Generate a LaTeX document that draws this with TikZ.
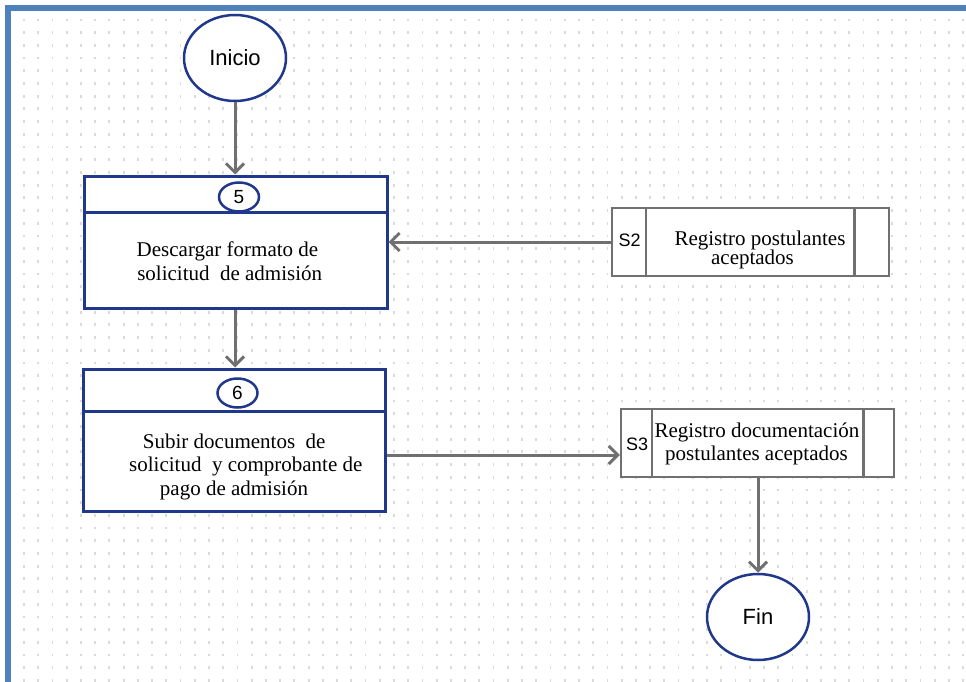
\documentclass[tikz,border=0pt]{standalone}
\usepackage{fontspec}
\setmainfont{Liberation Serif}
\newfontfamily\arialf{Liberation Sans}
\usetikzlibrary{arrows.meta,shapes.geometric}
\definecolor{dblue}{RGB}{32,56,140}
\definecolor{cgray}{RGB}{112,112,112}
\definecolor{frameblue}{RGB}{79,129,189}
\definecolor{dotgray}{RGB}{218,218,218}
\begin{document}
\begin{tikzpicture}[x=1pt,y=-1pt,
 term/.style={ellipse, draw=dblue, line width=2.5pt, fill=white, minimum width=102pt, minimum height=86pt, inner sep=0pt, font=\arialf\fontsize{22}{26}\selectfont},
 procbox/.style={rectangle, draw=dblue, line width=3pt, fill=white, inner sep=0pt},
 numcirc/.style={ellipse, draw=dblue, line width=2.5pt, fill=white, minimum width=40pt, minimum height=29pt, inner sep=0pt, font=\arialf\fontsize{19}{22}\selectfont},
 storebox/.style={rectangle, draw=cgray, line width=2.5pt, fill=white, inner sep=0pt},
 divider/.style={draw=cgray, line width=2.5pt},
 hdrline/.style={draw=dblue, line width=3pt},
 flow/.style={draw=cgray, line width=3pt, -{Straight Barb[length=9pt,width=18pt]}},
 txt/.style={font=\fontsize{21}{24}\selectfont, anchor=base, inner sep=0pt},
 slab/.style={font=\arialf\fontsize{18}{21}\selectfont, anchor=base, inner sep=0pt}
]
\useasboundingbox (0,0) rectangle (966,682);
\fill[white] (0,0) rectangle (966,682);
% dot grid
\foreach \i in {0,...,66} {
  \foreach \j in {0,...,52} {
    \fill[dotgray] ({24+14.23*\i-0.9},{20+12.7*\j-1.4}) rectangle ++(1.8,2.8);
  }
}
% frame
\draw[frameblue, line width=6pt, line join=miter] (8,682) -- (8,8) -- (966,8);

% terminals
\node[term] (ini) at (235,58) {Inicio};
\node[term] (fin) at (758,617) {Fin};

% process box 5
\node[procbox, minimum width=303pt, minimum height=132pt] (b5) at (235.5,242) {};
\draw[hdrline] ([yshift=-38pt]b5.north west) -- ([yshift=-38pt]b5.north east);
\node[numcirc] (n5) at (239,197) {5};
\node[txt] (t5a) at (227.5,256) {Descargar formato de};
\node[txt] (t5b) at (229.7,280) {solicitud\ \ de admisión};

% process box 6
\node[procbox, minimum width=302pt, minimum height=142pt] (b6) at (234,440) {};
\draw[hdrline] ([yshift=-44pt]b6.north west) -- ([yshift=-44pt]b6.north east);
\node[numcirc] (n6) at (237.5,393) {6};
\node[txt] (t6a) at (234.2,448) {Subir documentos\ \ de};
\node[txt] (t6b) at (245.8,471) {solicitud\ \ y comprobante de};
\node[txt] (t6c) at (234,495) {pago de admisión};

% store S2
\node[storebox, minimum width=277pt, minimum height=68pt] (s2) at (750.5,242) {};
\draw[divider] ([xshift=35pt]s2.north west) -- ([xshift=35pt]s2.south west);
\draw[divider] ([xshift=-36pt]s2.north east) -- ([xshift=-36pt]s2.south east);
\node[slab] (s2l) at (629.5,246) {S2};
\node[txt] (s2a) at (760,245) {Registro postulantes};
\node[txt] (s2b) at (752.5,264) {aceptados};

% store S3
\node[storebox, minimum width=273pt, minimum height=68pt] (s3) at (757.5,443) {};
\draw[divider] ([xshift=32pt]s3.north west) -- ([xshift=32pt]s3.south west);
\draw[divider] ([xshift=-32pt]s3.north east) -- ([xshift=-32pt]s3.south east);
\node[slab] (s3l) at (637,450) {S3};
\node[txt] (s3a) at (757,437.7) {Registro documentación};
\node[txt] (s3b) at (756.5,460) {postulantes aceptados};

% connectors
\draw[flow] (ini.south) -- (ini.south |- b5.north);
\draw[flow] (ini |- b5.south) -- (ini |- b6.north);
\draw[flow] (s2.west) -- (s2.west -| b5.east);
\draw[flow] ([yshift=-15pt]b6.east) -- ([yshift=-15pt]b6.east -| s3.west);
\draw[flow] (fin |- s3.south) -- (fin.north);
\end{tikzpicture}
\end{document}
